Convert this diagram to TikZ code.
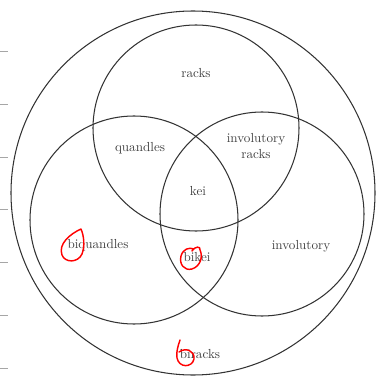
\documentclass[tikz,border=0pt]{standalone}
\begin{document}
\begin{tikzpicture}[x=0.0268cm,y=-0.0268cm,
  setline/.style={draw=black!80,line width=0.8pt},
  lbl/.style={text=black!75,font=\normalsize,inner sep=0pt,align=center},
  redmark/.style={draw=red,line width=1.1pt,line cap=round,line join=round},
  tickline/.style={draw=black!35,line width=0.5pt}]
\useasboundingbox (0,0) rectangle (376,377);
% left tick marks
\foreach \yy in {51,104,157,209,262,315,368} \draw[tickline] (0,\yy) -- (8,\yy);
% circles
\draw[setline] (193,193) circle (182);
\draw[setline] (196,128) circle (103);
\draw[setline] (134,220) circle (104);
\draw[setline] (262,214) circle (102);
% labels
\node[lbl] (racks) at (196,73) {racks};
\node[lbl] (quandles) at (140,148) {quandles};
\node[lbl] (invracks) at (256,146) {involutory\\racks};
\node[lbl] (kei) at (198,191) {kei};
\node[lbl] (biquandles) at (98,245) {biquandles};
\node[lbl] (bikei) at (197,257) {bikei};
\node[lbl] (involutory) at (301,246) {involutory};
\node[lbl] (biracks) at (200,354) {biracks};
% red annotations
\draw[redmark] (81,229) .. controls (70,234) and (58,244) .. (62,255)
  .. controls (65,263) and (78,263) .. (82,254)
  .. controls (85,246) and (84,236) .. (81,229);
\draw[redmark] (192,251) .. controls (195,246) and (201,246) .. (200,250)
  .. controls (203,256) and (201,266) .. (192,269)
  .. controls (184,271) and (179,264) .. (181,256)
  .. controls (183,249) and (189,247) .. (194,249);
\draw[redmark] (180,340) .. controls (178,346) and (176,352) .. (177,358)
  .. controls (179,368) and (192,368) .. (194,359)
  .. controls (195,351) and (186,347) .. (179,352);
\end{tikzpicture}
\end{document}
